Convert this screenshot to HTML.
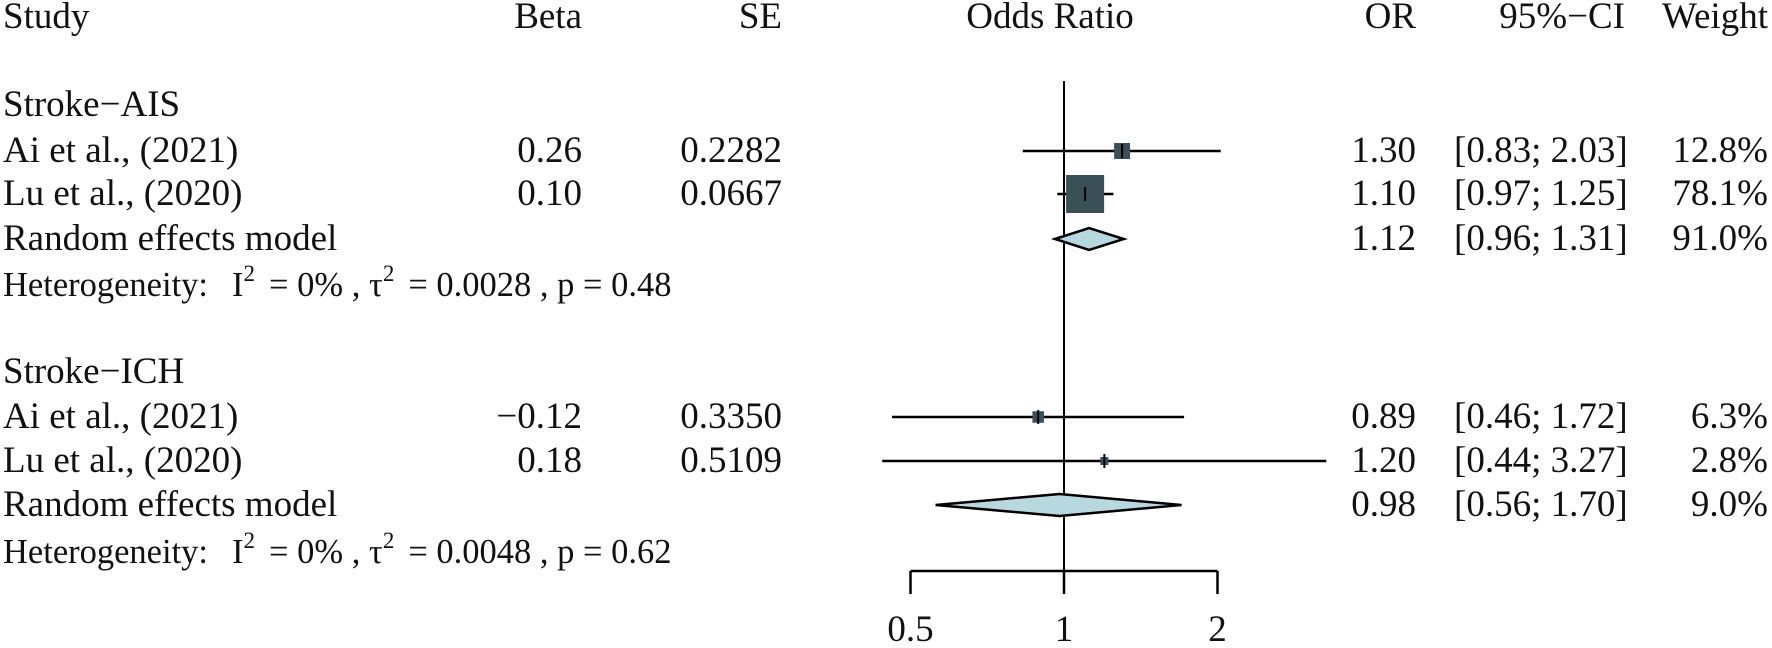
<!DOCTYPE html>
<html><head><meta charset="utf-8"><style>
html,body{margin:0;padding:0;background:#fff;}
svg{display:block;}
text{font-family:"Liberation Serif",serif;fill:#111;}
.t{font-size:37px;}
.h{font-size:34.5px;}
.s{font-size:23px;}
</style></head><body>
<svg id="chart" width="1772" height="648" viewBox="0 0 1772 648" xmlns="http://www.w3.org/2000/svg">
<g class="t">
<text x="3" y="28">Study</text>
<text x="582" y="28" text-anchor="end">Beta</text>
<text x="782" y="28" text-anchor="end">SE</text>
<text x="1050" y="28" text-anchor="middle">Odds Ratio</text>
<text x="1416" y="28" text-anchor="end">OR</text>
<text x="1625" y="28" text-anchor="end">95%−CI</text>
<text x="1768" y="28" text-anchor="end">Weight</text>
</g>
<g id="rows" class="t"></g>
<g id="marks"></g>
<text class="h" x="3" y="296">Heterogeneity:<tspan x="232">I</tspan><tspan class="s" dy="-15">2</tspan><tspan dy="15" dx="14">= 0% , τ</tspan><tspan class="s" dy="-15">2</tspan><tspan dy="15" dx="14">= 0.0028 , p = 0.48</tspan></text>
<text class="h" x="3" y="563">Heterogeneity:<tspan x="232">I</tspan><tspan class="s" dy="-15">2</tspan><tspan dy="15" dx="14">= 0% , τ</tspan><tspan class="s" dy="-15">2</tspan><tspan dy="15" dx="14">= 0.0048 , p = 0.62</tspan></text>
</svg>
<script>
const groupLabels = ["Stroke−AIS", "Stroke−ICH"];
const groupY = [116, 383];
const studyNames = ["Ai et al., (2021)", "Lu et al., (2020)", "Ai et al., (2021)", "Lu et al., (2020)"];
const studyGroup = [0, 0, 1, 1];
const studyY = [162, 205, 428, 472];
const betas = ["0.26", "0.10", "−0.12", "0.18"];
const ses = ["0.2282", "0.0667", "0.3350", "0.5109"];
const orVals = [1.30, 1.10, 0.89, 1.20];
const ciLow = [0.83, 0.97, 0.46, 0.44];
const ciHigh = [2.03, 1.25, 1.72, 3.27];
const weights = [12.8, 78.1, 6.3, 2.8];
const pooledY = [250, 516];
const pooledOr = [1.12, 0.98];
const pooledLow = [0.96, 0.56];
const pooledHigh = [1.31, 1.70];
const pooledWeight = [91.0, 9.0];
const ticks = [0.5, 1, 2];
const tickLabels = ["0.5", "1", "2"];

const NS = "http://www.w3.org/2000/svg";
const x = v => 1064 + Math.log2(v) * 153.5;
const fmt2 = v => v.toFixed(2);
const rows = document.getElementById("rows");
const marks = document.getElementById("marks");
function mk(parent, tag, attrs, txt) {
  const e = document.createElementNS(NS, tag);
  for (const k in attrs) e.setAttribute(k, attrs[k]);
  if (txt !== undefined) e.textContent = txt;
  parent.appendChild(e);
  return e;
}
groupLabels.forEach((g, i) => {
  const t = mk(rows, "text", {x: 3, y: groupY[i]}, g);
  
  
});
const nl = mk(marks, "line", {x1: x(1), x2: x(1), y1: 81, y2: 571, stroke: "#000", "stroke-width": 2});


studyNames.forEach((n, i) => {
  const y = studyY[i];
  const cells = [[3, "start", n, "study-name"], [582, "end", betas[i], "beta-value"], [782, "end", ses[i], "se-value"],
    [1416, "end", fmt2(orVals[i]), "or-value"], [1454, "start", "[" + fmt2(ciLow[i]) + "; " + fmt2(ciHigh[i]) + "]", "ci-value"],
    [1768, "end", weights[i].toFixed(1) + "%", "weight-value"]];
  cells.forEach(c => {
    const t = mk(rows, "text", {x: c[0], y: y, "text-anchor": c[1]}, c[2]);
    
    
  });
  const cy = y - 11;
  const l = mk(marks, "line", {x1: x(ciLow[i]), x2: x(ciHigh[i]), y1: cy, y2: cy, stroke: "#000", "stroke-width": 2.5});
  
  
  const s = 37 * Math.sqrt(weights[i] / 78.1) + 1;
  const r = mk(marks, "rect", {x: x(orVals[i]) - s / 2, y: cy - s / 2, width: s, height: s, fill: "#3b4f56"});
  
  
  const tk = mk(marks, "line", {x1: x(orVals[i]), x2: x(orVals[i]), y1: cy - 7, y2: cy + 7, stroke: "#000", "stroke-width": 2});
  
  
});
pooledY.forEach((y, i) => {
  const cells = [[3, "start", "Random effects model", "pooled-label"], [1416, "end", fmt2(pooledOr[i]), "pooled-or"],
    [1454, "start", "[" + fmt2(pooledLow[i]) + "; " + fmt2(pooledHigh[i]) + "]", "pooled-ci"],
    [1768, "end", pooledWeight[i].toFixed(1) + "%", "pooled-weight"]];
  cells.forEach(c => {
    const t = mk(rows, "text", {x: c[0], y: y, "text-anchor": c[1]}, c[2]);
    
    
  });
  const cy = y - 11;
  const pts = [[x(pooledLow[i]), cy], [x(pooledOr[i]), cy - 11], [x(pooledHigh[i]), cy], [x(pooledOr[i]), cy + 11]].map(p => p.join(",")).join(" ");
  const d = mk(marks, "polygon", {points: pts, fill: "#b8d8df", stroke: "#000", "stroke-width": 2.5});
  
  
});
const ax = mk(marks, "line", {x1: x(ticks[0]), x2: x(ticks[ticks.length - 1]), y1: 571, y2: 571, stroke: "#000", "stroke-width": 2.5});


ticks.forEach((t, i) => {
  const tl = mk(marks, "line", {x1: x(t), x2: x(t), y1: 571, y2: 594, stroke: "#000", "stroke-width": 2.5});
  
  
  const lb = mk(marks, "text", {x: x(t), y: 641, "text-anchor": "middle", class: "t"}, tickLabels[i]);
  
  
});
</script>
</body></html>
